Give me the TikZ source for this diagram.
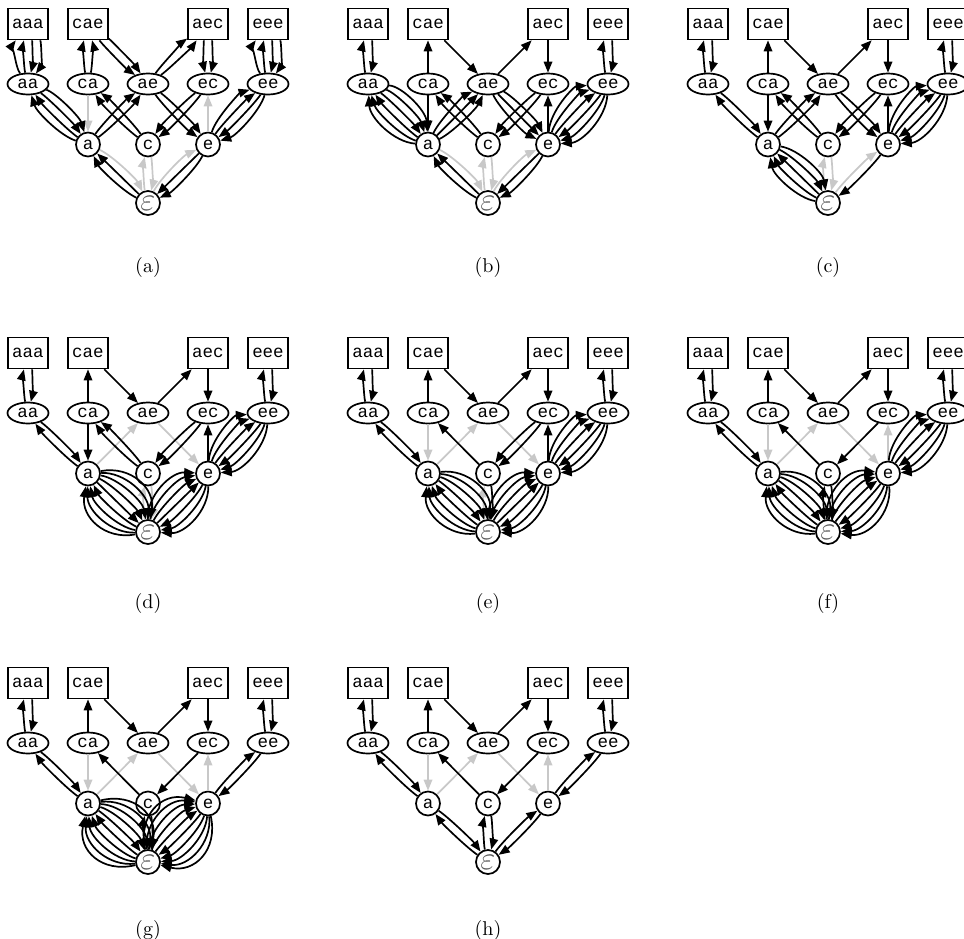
\documentclass[tikz,border=0pt]{standalone}
\usepackage{fontspec}
\setmonofont{Liberation Mono}
\usetikzlibrary{shapes.geometric,arrows.meta,calc}
\definecolor{gr}{RGB}{200,200,200}
\definecolor{epsc}{RGB}{90,90,90}
\newif\ifgp
\newcommand\sepv{9}
\tikzset{
  lbl/.style={font=\ttfamily\fontsize{17.5}{18}\selectfont},
  box/.style={lbl,draw,line width=1.7pt,rectangle,minimum width=40pt,minimum height=31pt,inner sep=0pt},
  ell/.style={lbl,draw,line width=1.7pt,ellipse,minimum width=41pt,minimum height=21pt,inner sep=0pt},
  circ/.style={lbl,draw,line width=1.7pt,circle,minimum size=24pt,inner sep=0pt},
  arc/.style={line width=1.7pt,-{Triangle[length=11pt,width=8.5pt]}},
  sub/.style={inner sep=0pt}
}
\newcommand\onearc[4]{%
  \pgfmathsetmacro\offs{#3*\sepv}%
  \draw[arc,#4] (#1) .. controls ($(#1)!0.3!(#2)!\offs pt!90:(#2)$) and ($(#1)!0.7!(#2)!\offs pt!-90:(#1)$) .. (#2);%
}
\newcommand\tw[4]{%
  \pgfmathtruncatemacro\nn{max(#3,1)}%
  \pgfmathtruncatemacro\mm{max(#4,1)}%
  \pgfmathsetmacro\kh{(\nn+\mm-1)/2}%
  \ifgp
    \ifnum#3=0 \onearc{#1}{#2}{\kh}{gr}\fi
    \ifnum#4=0 \onearc{#2}{#1}{\kh}{gr}\fi
  \else
    \ifnum#3>0 \foreach \ii in {1,...,#3}{\pgfmathsetmacro\LL{\kh-\ii+1}\onearc{#1}{#2}{\LL}{black}}\fi
    \ifnum#4>0 \foreach \ii in {1,...,#4}{\pgfmathsetmacro\LL{\kh-\ii+1}\onearc{#2}{#1}{\LL}{black}}\fi
  \fi
}
\newcommand\ow[3]{%
  \ifnum#3=0
    \ifgp\onearc{#1}{#2}{0}{gr}\fi
  \else
    \ifgp\else
      \pgfmathsetmacro\kh{(#3-1)/2}%
      \foreach \ii in {1,...,#3}{\pgfmathsetmacro\LL{\kh-\ii+1}\onearc{#1}{#2}{\LL}{black}}%
    \fi
  \fi
}
% top part: prefix, aa>aaa, aaa>aa, ee>eee, eee>ee, ca>cae, cae>ae, ae>aec, aec>ec
\newcommand\EA[9]{\tw{#1aa}{#1aaa}{#2}{#3}\tw{#1ee}{#1eee}{#4}{#5}\ow{#1ca}{#1cae}{#6}\ow{#1cae}{#1ae}{#7}\ow{#1ae}{#1aec}{#8}\ow{#1aec}{#1ec}{#9}}
% middle: prefix, aa>a, a>aa, ca>a, a>ae, c>ca, ec>c, ae>e, e>ec
\newcommand\EB[9]{\tw{#1aa}{#1a}{#2}{#3}\ow{#1ca}{#1a}{#4}\ow{#1a}{#1ae}{#5}\ow{#1c}{#1ca}{#6}\ow{#1ec}{#1c}{#7}\ow{#1ae}{#1e}{#8}\ow{#1e}{#1ec}{#9}}
% bottom: prefix, ee>e, e>ee, a>eps, eps>a, c>eps, eps>c, e>eps, eps>e
\newcommand\EC[9]{\tw{#1ee}{#1e}{#2}{#3}\tw{#1a}{#1eps}{#4}{#5}\tw{#1c}{#1eps}{#6}{#7}\tw{#1e}{#1eps}{#8}{#9}}
\newcommand\panelnodes[5]{%
  \begin{scope}[shift={(#2,#3)}]
    \node[box] (#1aaa) at (28,24) {aaa};
    \node[box] (#1cae) at (88,24) {cae};
    \node[box] (#1aec) at (208,24) {aec};
    \node[box] (#1eee) at (268,24) {eee};
    \node[ell] (#1aa) at (28,84) {aa};
    \node[ell] (#1ca) at (88,84) {ca};
    \node[ell] (#1ae) at (148,84) {ae};
    \node[ell] (#1ec) at (208,84) {ec};
    \node[ell] (#1ee) at (268,84) {ee};
    \node[circ] (#1a) at (88,144.5) {a};
    \node[circ] (#1c) at (148,144.5) {c};
    \node[circ] (#1e) at (208,144.5) {e};
    \node[circ] (#1eps) at (148,203) {\textcolor{epsc}{\scalebox{1.9}{$\varepsilon$}}};
    \node[sub] (#1lab) at (148,#5) {\scalebox{2}{(#4)}};
  \end{scope}}
\newcommand\alledges{%
  \EA{A}{2}{2}{2}{2}{2}{2}{2}{2}\EB{A}{2}{2}{0}{2}{2}{2}{2}{0}\EC{A}{2}{2}{0}{2}{0}{0}{2}{0}%
  \EA{B}{1}{1}{1}{1}{1}{1}{1}{1}\EB{B}{3}{3}{1}{3}{2}{2}{3}{1}\EC{B}{3}{3}{0}{2}{0}{0}{2}{0}%
  \EA{C}{1}{1}{1}{1}{1}{1}{1}{1}\EB{C}{1}{1}{1}{2}{2}{2}{2}{1}\EC{C}{3}{3}{2}{3}{0}{0}{1}{0}%
  \EA{D}{1}{1}{1}{1}{1}{1}{1}{1}\EB{D}{1}{1}{1}{0}{2}{2}{0}{1}\EC{D}{3}{3}{5}{4}{0}{0}{3}{4}%
  \EA{E}{1}{1}{1}{1}{1}{1}{1}{1}\EB{E}{1}{1}{0}{0}{1}{2}{0}{1}\EC{E}{3}{3}{4}{4}{1}{0}{3}{4}%
  \EA{F}{1}{1}{1}{1}{1}{1}{1}{1}\EB{F}{1}{1}{0}{0}{1}{1}{0}{0}\EC{F}{3}{3}{4}{4}{1}{1}{4}{4}%
  \EA{G}{1}{1}{1}{1}{1}{1}{1}{1}\EB{G}{1}{1}{0}{0}{1}{1}{0}{0}\EC{G}{1}{1}{5}{5}{1}{1}{5}{5}%
  \EA{H}{1}{1}{1}{1}{1}{1}{1}{1}\EB{H}{1}{1}{0}{0}{1}{1}{0}{0}\EC{H}{1}{1}{1}{1}{1}{1}{1}{1}%
}
\begin{document}
\begin{tikzpicture}[x=1pt,y=-1pt]
  \useasboundingbox (0,0) rectangle (964,938);
  \clip (0,0) rectangle (964,938);
  \panelnodes{A}{0}{0}{a}{267}
  \panelnodes{B}{340}{0}{b}{267}
  \panelnodes{C}{680}{0}{c}{267}
  \panelnodes{D}{0}{329}{d}{274}
  \panelnodes{E}{340}{329}{e}{274}
  \panelnodes{F}{680}{329}{f}{274}
  \panelnodes{G}{0}{659}{g}{271}
  \panelnodes{H}{340}{659}{h}{271}
  \gptrue\alledges
  \gpfalse\alledges
\end{tikzpicture}
\end{document}
